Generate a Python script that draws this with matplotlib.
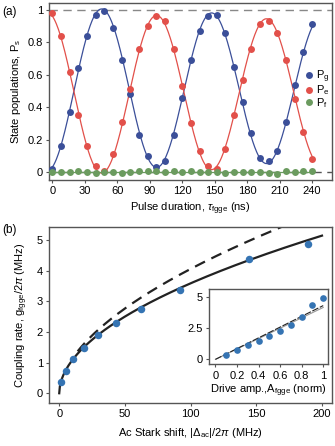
import numpy as np
import matplotlib
matplotlib.use("Agg")
import matplotlib.pyplot as plt
from matplotlib.ticker import FuncFormatter

plt.rcParams['font.family'] = ['Liberation Sans', 'DejaVu Sans']
plt.rcParams['mathtext.fontset'] = 'custom'
plt.rcParams['mathtext.rm'] = 'Liberation Sans'
plt.rcParams['mathtext.it'] = 'Liberation Sans:italic'
plt.rcParams['font.size'] = 8

# ---- panel (a) data: Rabi-like oscillation
tau_ns = np.arange(0, 241, 8)
p_g = [0.02, 0.16, 0.37, 0.64, 0.84, 0.97, 0.99, 0.89, 0.69, 0.48, 0.23,
       0.10, 0.03, 0.07, 0.23, 0.46, 0.69, 0.87, 0.96, 0.97, 0.86, 0.65,
       0.43, 0.24, 0.09, 0.07, 0.13, 0.31, 0.54, 0.74, 0.91]
p_e = [0.98, 0.84, 0.62, 0.35, 0.16, 0.04, 0.01, 0.11, 0.31, 0.51, 0.76,
       0.90, 0.96, 0.93, 0.76, 0.53, 0.30, 0.13, 0.04, 0.02, 0.14, 0.35,
       0.57, 0.76, 0.91, 0.93, 0.86, 0.69, 0.45, 0.25, 0.08]
p_f = [0.0, 0.0, 0.0, 0.005, 0.0, -0.005, 0.0, 0.0, -0.005, 0.0, 0.005,
       0.005, 0.005, 0.0, 0.005, 0.0, 0.008, 0.0, 0.0, 0.0, -0.002, 0.0,
       0.0, 0.0, 0.0, -0.002, -0.01, 0.005, 0.0, 0.005, 0.008]

# ---- panel (b) data
stark_mhz = [1.0, 4.8, 10.4, 18.8, 29.4, 43.3, 62.4, 91.8, 144.2, 189.1]
g_mhz = [0.37, 0.74, 1.11, 1.49, 1.90, 2.29, 2.75, 3.36, 4.37, 4.87]
drive_amp = [0.1, 0.2, 0.3, 0.4, 0.5, 0.6, 0.7, 0.8, 0.9, 1.0]
# theory curves, points
solid_x = [1, 10, 30, 62.5, 100, 150, 200]
solid_y = [0.33, 1.07, 1.92, 2.8, 3.6, 4.4, 5.2]
dash_x = [14, 40, 69, 120, 169]
dash_y = [1.3, 2.62, 3.42, 4.42, 5.22]
inset_x = [0, 1]
inset_y1 = [0, 4.3]
inset_y2 = [0, 4.15]

c_g, c_e, c_f = '#3b4f99', '#e2504a', '#6b9b5f'
c_b = '#3574b3'
spine_c = '#555555'


def damped_fit(t, y):
    # a + exp(-t/T) (b cos wt + c sin wt), grid over w and T
    t = np.asarray(t, float)
    y = np.asarray(y, float)
    best = None
    for per in np.linspace(95, 112, 171):
        w = 2 * np.pi / per
        for T in np.linspace(200, 6000, 59):
            env = np.exp(-t / T)
            A = np.column_stack([np.ones_like(t), env * np.cos(w * t), env * np.sin(w * t)])
            coef, *_ = np.linalg.lstsq(A, y, rcond=None)
            r = np.sum((A @ coef - y) ** 2)
            if best is None or r < best[0]:
                best = (r, w, T, coef)
    _, w, T, coef = best
    tt = np.linspace(t.min(), t.max(), 400)
    env = np.exp(-tt / T)
    return tt, coef[0] + env * (coef[1] * np.cos(w * tt) + coef[2] * np.sin(w * tt))


def power_fit(x, y, xs):
    p, loga = np.polyfit(np.log(x), np.log(y), 1)
    return np.exp(loga) * xs ** p


def fmt(v, pos):
    return '%g' % v


fig = plt.figure(figsize=(3.35, 4.46), dpi=100)

# ---------- (a)
ax = fig.add_axes([0.147, 0.596, 0.844, 0.397])
ax.axhline(1, color='#888888', lw=1.0, ls=(0, (6, 4)), zorder=1)
ax.axhline(0, color='#555555', lw=1.0, ls=(0, (6, 4)), zorder=1)
for y, c in [(p_g, c_g), (p_e, c_e)]:
    tt, yy = damped_fit(tau_ns, y)
    ax.plot(tt, yy, color=c, lw=0.9, zorder=2)
ax.plot([0, 240], [np.mean(p_f)] * 2, color=c_f, lw=0.9, zorder=2)
ax.plot(tau_ns, p_g, 'o', color=c_g, ms=5, mec='none', label=r'P$_{\rm g}$', zorder=3)
ax.plot(tau_ns, p_e, 'o', color=c_e, ms=5, mec='none', label=r'P$_{\rm e}$', zorder=3)
ax.plot(tau_ns, p_f, 'o', color=c_f, ms=5, mec='none', label=r'P$_{\rm f}$', zorder=3)
ax.set_xlim(-3, 258.5)
ax.set_ylim(-0.049, 1.041)
ax.set_xticks(range(0, 241, 30))
ax.set_yticks([0, 0.2, 0.4, 0.6, 0.8, 1])
ax.yaxis.set_major_formatter(FuncFormatter(fmt))
ax.set_xlabel(r'Pulse duration, $\tau_{\rm fgge}$ (ns)', labelpad=3)
ax.set_ylabel(r'State populations, P$_{\rm s}$', labelpad=3)
ax.legend(loc='center right', bbox_to_anchor=(1.02, 0.515), frameon=False,
          handlelength=0.6, handletextpad=0.4, labelspacing=-0.1, borderpad=0.2)

# ---------- (b)
bx = fig.add_axes([0.147, 0.097, 0.844, 0.393])
xs = np.linspace(0, 200, 400)
bx.plot(xs, power_fit(solid_x, solid_y, xs), color='#222222', lw=1.6, zorder=2)
xd = np.linspace(14, 169, 300)
bx.plot(xd, power_fit(dash_x, dash_y, xd), color='#222222', lw=1.6,
        ls=(0, (5, 3.2)), zorder=2)
bx.plot(stark_mhz, g_mhz, 'o', color=c_b, ms=5.4, mec='none', zorder=3)
bx.set_xlim(-7.6, 207.6)
bx.set_ylim(-0.31, 5.41)
bx.set_xticks(range(0, 201, 50))
bx.set_yticks(range(0, 6))
bx.set_xlabel(r'Ac Stark shift, |$\Delta_{\rm ac}$|/2$\pi$ (MHz)', labelpad=5)
bx.set_ylabel(r'Coupling rate, g$_{\rm fgge}$/2$\pi$ (MHz)', labelpad=5)

# inset
ix = fig.add_axes([0.625, 0.183, 0.354, 0.168])
ix.plot(inset_x, inset_y2, color='#999999', lw=0.8, zorder=2)
ix.plot(inset_x, inset_y1, color='#222222', lw=0.8, ls=(0, (6, 1.5)), zorder=2)
ix.plot(drive_amp, g_mhz, 'o', color=c_b, ms=4.8, mec='none', zorder=3)
ix.set_xlim(-0.056, 1.044)
ix.set_ylim(-0.4, 5.59)
ix.set_xticks([0, 0.2, 0.4, 0.6, 0.8, 1])
ix.set_yticks([0, 2.5, 5])
ix.xaxis.set_major_formatter(FuncFormatter(fmt))
ix.yaxis.set_major_formatter(FuncFormatter(fmt))
ix.set_xlabel(r'Drive amp.,A$_{\rm fgge}$ (norm)', labelpad=1.5)

for a in (ax, bx, ix):
    for s in a.spines.values():
        s.set_color(spine_c)
        s.set_linewidth(1.0)
    a.tick_params(direction='out', length=2.5, width=0.8, color=spine_c, pad=2)

fig.text(0.006, 0.987, '(a)', ha='left', va='top', fontsize=8.5)
fig.text(0.006, 0.497, '(b)', ha='left', va='top', fontsize=8.5)

fig.savefig('out.png', dpi=100)
